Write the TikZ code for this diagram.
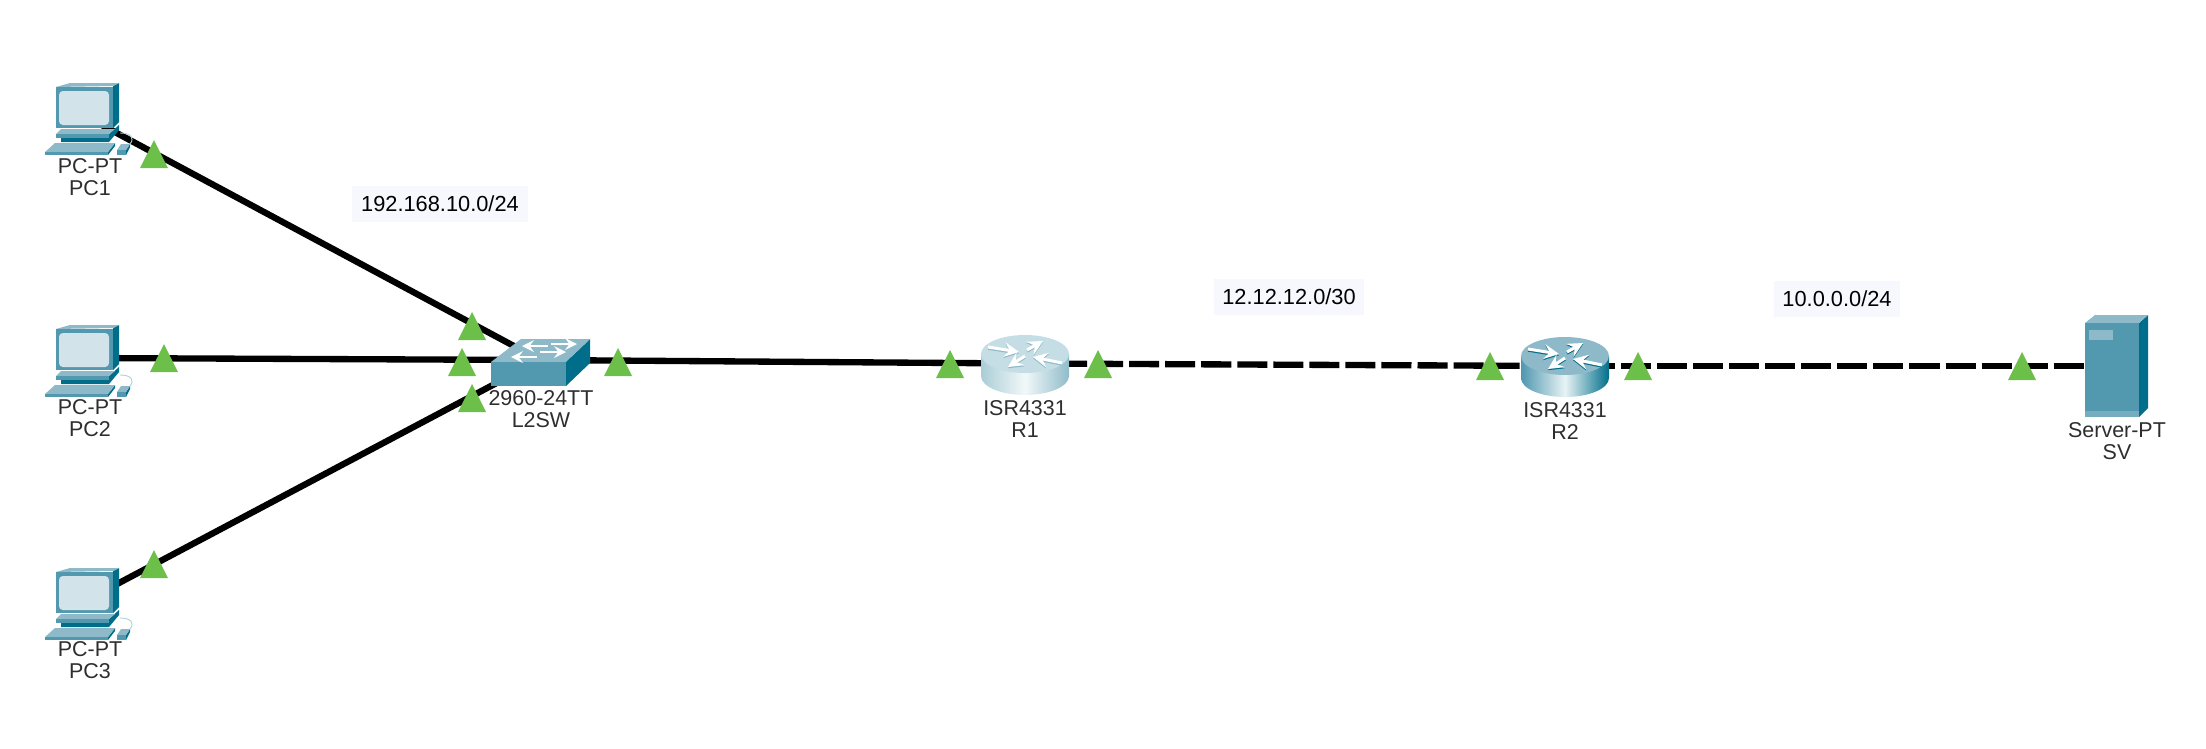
\documentclass[tikz,border=0pt]{standalone}
\usepackage{fontspec}
\setmainfont{Liberation Sans}
\definecolor{ptFront}{HTML}{5299B0}
\definecolor{ptTop}{HTML}{8DB9C9}
\definecolor{ptSide}{HTML}{006E8A}
\definecolor{ptScreen}{HTML}{D3E3EA}
\definecolor{ptCable}{HTML}{A9D0DC}
\definecolor{ptGreen}{HTML}{6CC04A}
\definecolor{ptNote}{HTML}{F7F8FE}
\definecolor{ptText}{HTML}{2E2E2E}
\definecolor{lightTop}{HTML}{C5DDE5}
\definecolor{lightLeft}{HTML}{A9CDD6}
\definecolor{lightMid}{HTML}{F2F8F9}
\definecolor{lightRight}{HTML}{8FBCC9}
\definecolor{darkLeft}{HTML}{4F97AF}
\definecolor{darkMid}{HTML}{E8F3F5}
\tikzset{
	link/.style={line width=1.8pt,black},
	dashlink/.style={link,dash pattern=on 8.54pt off 1.71pt},
	devlabel/.style={font=\fontsize{6.1}{6.3}\selectfont,text=ptText,align=center,inner sep=0pt},
	netlabel/.style={font=\fontsize{6.2}{7}\selectfont,fill=ptNote,inner xsep=2.5pt,inner ysep=0pt,minimum height=10.5pt},
	pics/pcicon/.style={code={
		\fill[ptSide] (28,-30)--(34,-33)--(34,6)--(28,12)--cycle;
		\fill[ptTop] (-29,-29)--(-15,-33)--(34,-33)--(28,-30)--cycle;
		\fill[ptFront] (-29,-29) rectangle (28,12);
		\fill[ptScreen,rounded corners=1.1pt] (-26,-25) rectangle (24,9);
		\fill[ptSide] (24,18)--(34,9)--(34,14)--(24,26)--(-24,26)--(-24,22)--(24,22)--cycle;
		\fill[ptTop] (-29,18)--(-24,13)--(30,13)--(24,18)--cycle;
		\fill[ptFront] (-29,18) rectangle (24,22);
		\fill[ptSide] (23,36)--(30,27)--(30,30)--(23,39)--cycle;
		\fill[ptTop] (-40,36)--(-30,27)--(30,27)--(23,36)--cycle;
		\fill[ptFront] (-40,36) rectangle (23,39);
		\draw[ptCable,line width=.25pt] (45,28) .. controls (50,22) and (46,17) .. (35,17);
		\fill[ptSide] (41,34)--(45,28)--(45,31)--(41,39)--cycle;
		\fill[ptTop] (32,34)--(36,28)--(45,28)--(41,34)--cycle;
		\fill[ptFront] (32,34) rectangle (41,39);
	}},
	pics/swicon/.style={code={
		\fill[ptSide] (26,2)--(50,-21)--(50,3)--(26,26)--cycle;
		\fill[ptTop] (-49,2)--(-19,-21)--(50,-21)--(26,2)--cycle;
		\fill[ptFront] (-49,2) rectangle (26,26);
		\foreach \p/\q/\r in {11/37/-16,8/-18/-14,0/26/-8,-3/-29/-3}
		\draw[white,line width=.5pt,->,>=stealth] (\p,\r) -- (\q,\r);
	}},
	pics/rticon/.style n args={5}{code={
		\shade[left color=#2,right color=#4,middle color=#3] (-44,-11) -- (-44,11) arc (180:0:44 and 19) -- (44,-11) -- cycle;
		\fill[#1] (0,-11) ellipse (44 and 19);
		\foreach \ax/\ay/\bx/\by in {-37/-18/-6/-13,2/-15/18/-24,37/-2/8/-8,0/-9/-17/2}{
			\draw[#5,line width=.85pt,->,>=stealth] (\ax,\ay+1.2) -- (\bx,\by+1.2);
			\draw[white,line width=.85pt,->,>=stealth] (\ax,\ay) -- (\bx,\by);
		}
	}},
	pics/svicon/.style={code={
		\fill[ptSide] (23,-43)--(32,-51)--(32,42)--(23,51)--cycle;
		\fill[ptTop] (-31,-43)--(-21,-51)--(32,-51)--(23,-43)--cycle;
		\fill[ptFront] (-31,-43) rectangle (23,51);
		\fill[ptTop] (-27,-36) rectangle (-3,-26);
		\fill[ptTop!60!ptFront] (-31,45) rectangle (23,51);
	}},
}
\begin{document}
\begin{tikzpicture}[x=.01cm,y=-.01cm,line join=miter]
	\useasboundingbox (0,0) rectangle (2206,748);
	\path
	(85,116) coordinate (PC1)
	(85,358) coordinate (PC2)
	(85,601) coordinate (PC3)
	(540,360) coordinate (L2SW)
	(1025,363.5) coordinate (R1)
	(1565,366) coordinate (R2)
	(2116,366) coordinate (SV)
	;
	\draw[link]
	(PC1)--(L2SW) (PC2)--(L2SW) (PC3)--(L2SW) (L2SW)--(R1)
	;
	\draw[dashlink,dash phase=1.14pt] (R1)--(R2);
	\draw[dashlink,dash phase=4.55pt] (R2)--(SV);
	\foreach \x in {PC1,PC2,PC3}
	\pic at (\x) {pcicon};
	\pic at (L2SW) {swicon};
	\pic at (1025,365) {rticon={lightTop}{lightLeft}{lightMid}{lightRight}{ptTop}};
	\pic at (1565,367) {rticon={ptTop}{darkLeft}{darkMid}{ptSide}{ptSide}};
	\pic at (SV) {svicon};
	% link lights
	\foreach \x/\y in {154/168,164/372,154/578,472/340,462/376,472/412,618/376,950/378,1098/378,1490/380,1638/380,2022/380}
	\fill[ptGreen] (\x-14,\y) -- (\x,\y-28) -- (\x+14,\y) -- cycle;
	\foreach \n/\t/\x/\y in {PC1/PC-PT/90/177,PC2/PC-PT/90/418,PC3/PC-PT/90/660,L2SW/2960-24TT/541/409,R1/ISR4331/1025/419,R2/ISR4331/1565/421,SV/Server-PT/2117/441}
	\node[devlabel] (lbl\n) at (\x,\y) {\t\\\n};
	\node[netlabel] (net1) at (440,204) {192.168.10.0/24};
	\node[netlabel] (net2) at (1289,297) {12.12.12.0/30};
	\node[netlabel] (net3) at (1837,299) {10.0.0.0/24};
\end{tikzpicture}
\end{document}
